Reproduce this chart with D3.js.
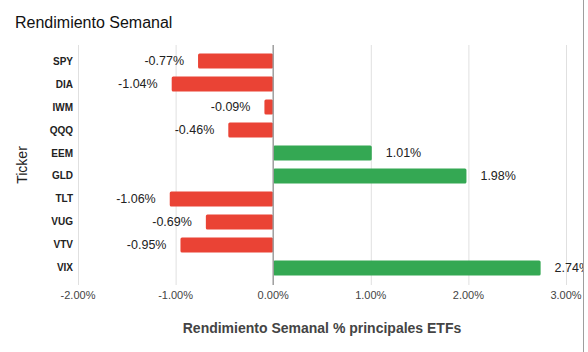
<!DOCTYPE html>
<html>
<head>
<meta charset="utf-8">
<script src="https://cdn.jsdelivr.net/npm/d3@7"></script>
<style>
  body { margin: 0; background: #fff; }
  text { font-family: "Liberation Sans", Arial, sans-serif; }
</style>
</head>
<body>
<div id="chart"></div>
<script>
// Data
const tickers = ["SPY", "DIA", "IWM", "QQQ", "EEM", "GLD", "TLT", "VUG", "VTV", "VIX"];
const returns = [-0.77, -1.04, -0.09, -0.46, 1.01, 1.98, -1.06, -0.69, -0.95, 2.74];
const xTicks = [-2, -1, 0, 1, 2, 3];

const width = 588, height = 352;
const margin = {top: 45, right: 22, bottom: 67, left: 78};

const svg = d3.select("#chart").append("svg")
    .attr("width", width)
    .attr("height", height);

// Clip everything right of the frame edge
svg.append("clipPath").attr("id", "clip")
  .append("rect").attr("x", 0).attr("y", 0).attr("width", 583).attr("height", height);

const g = svg.append("g").attr("clip-path", "url(#clip)");

const x = d3.scaleLinear().domain([-2, 3]).range([margin.left, width - margin.right]);
const y = d3.scaleBand().domain(tickers).range([45.6, 283.4]).padding(0.34);

// Gridlines
g.append("g")
  .selectAll("line")
  .data(xTicks.filter(d => d !== 0))
  .join("line")
    .attr("x1", d => x(d) + 0.5).attr("x2", d => x(d) + 0.5)
    .attr("y1", margin.top).attr("y2", 285)
    .attr("stroke", "#e0e0e0");

// Bars
g.append("g")
  .selectAll("rect")
  .data(tickers)
  .join("rect")
    .attr("x", (d, i) => Math.min(x(0), x(returns[i])))
    .attr("y", d => y(d))
    .attr("width", (d, i) => Math.abs(x(returns[i]) - x(0)))
    .attr("height", y.bandwidth())
    .attr("rx", 1.5)
    .attr("fill", (d, i) => returns[i] < 0 ? "#ea4335" : "#34a853");

// Zero line
g.append("line")
    .attr("x1", x(0)).attr("x2", x(0))
    .attr("y1", margin.top).attr("y2", 285)
    .attr("stroke", "#9e9e9e").attr("stroke-width", 1.5);

// Value labels
g.append("g")
  .selectAll("text")
  .data(tickers)
  .join("text")
    .attr("x", (d, i) => x(returns[i]) + (returns[i] < 0 ? -14 : 14))
    .attr("y", d => y(d) + y.bandwidth() / 2)
    .attr("dy", "0.35em")
    .attr("text-anchor", (d, i) => returns[i] < 0 ? "end" : "start")
    .attr("font-size", 12.5)
    .attr("fill", "#222")
    .text((d, i) => returns[i].toFixed(2) + "%");

// Y labels
svg.append("g")
  .selectAll("text")
  .data(tickers)
  .join("text")
    .attr("x", 73)
    .attr("y", d => y(d) + y.bandwidth() / 2)
    .attr("dy", "0.35em")
    .attr("text-anchor", "end")
    .attr("font-size", 10)
    .attr("font-weight", "bold")
    .attr("fill", "#222")
    .text(d => d);

// X tick labels
svg.append("g")
  .selectAll("text")
  .data(xTicks)
  .join("text")
    .attr("x", d => x(d))
    .attr("y", 299)
    .attr("text-anchor", "middle")
    .attr("font-size", 11)
    .attr("fill", "#444")
    .text(d => d.toFixed(2) + "%");

// Titles
svg.append("text")
    .attr("x", 15).attr("y", 28)
    .attr("font-size", 16)
    .attr("fill", "#111")
    .text("Rendimiento Semanal");

svg.append("text")
    .attr("x", x(0.5)).attr("y", 333)
    .attr("text-anchor", "middle")
    .attr("font-size", 14)
    .attr("font-weight", "bold")
    .attr("fill", "#444")
    .text("Rendimiento Semanal % principales ETFs");

svg.append("text")
    .attr("transform", `translate(27,${(margin.top + 285) / 2}) rotate(-90)`)
    .attr("text-anchor", "middle")
    .attr("font-size", 14)
    .attr("fill", "#222")
    .text("Ticker");

// Right frame edge
svg.append("line")
    .attr("x1", 583.5).attr("x2", 583.5)
    .attr("y1", 0).attr("y2", height)
    .attr("stroke", "#9e9e9e");
</script>
</body>
</html>
